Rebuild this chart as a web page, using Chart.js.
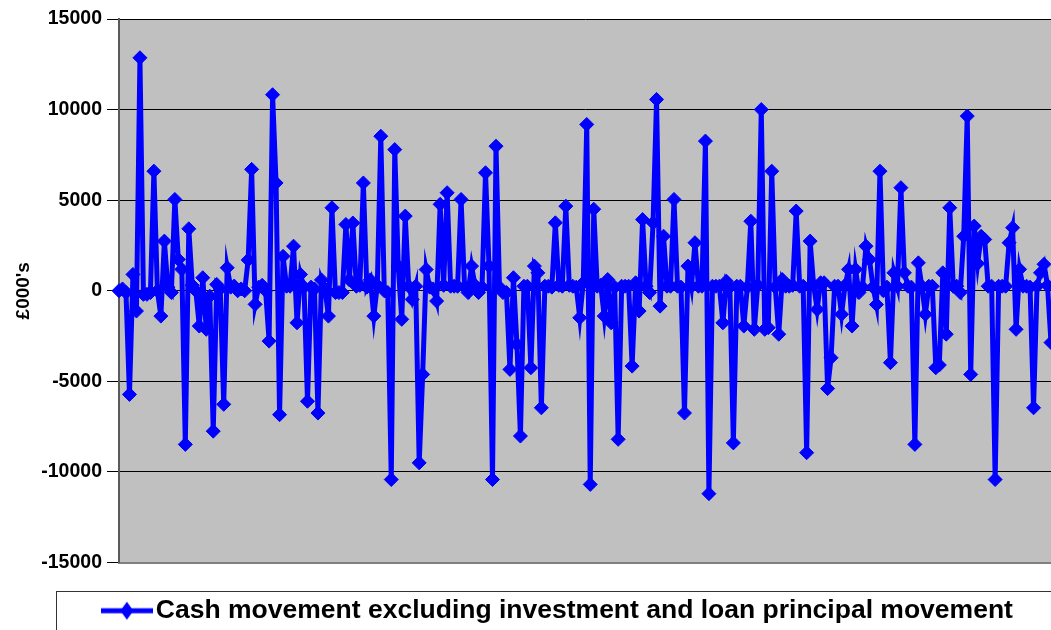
<!DOCTYPE html>
<html>
<head>
<meta charset="utf-8">
<script src="https://cdn.jsdelivr.net/npm/chart.js@4.4.1/dist/chart.umd.min.js"></script>
<style>
  html, body { margin: 0; padding: 0; background: #ffffff; }
  #wrap { width: 1051px; height: 630px; overflow: hidden; position: relative; }
  canvas { display: block; }
</style>
</head>
<body>
<div id="wrap"><canvas id="chart" width="1124" height="634"></canvas></div>
<script>
// Monthly cash movement, £000's
const cashMovement = [
  0, 100, -100, -5720, 900, -1120, 12860, -200, -200, -100,
  6600, 0, -1400, 2740, 200, -100, 5040, 1730, 1180, -8480,
  3420, 300, 0, -1950, 720, -2130, -300, -7750, 350, 100,
  -6270, 1270, 200, 260, 0, 100, 0, 1700, 6700, -750,
  200, 300, 0, -2780, 10820, 5950, -6840, 1900, 250, 250,
  2460, -1770, 900, 200, -6100, 200, 100, -6750, 600, 100,
  -1400, 4580, -100, -100, -100, 3660, 600, 3740, 250, 300,
  5950, 200, 600, -1400, 300, 8530, 0, -100, -10420, 7790,
  1360, -1580, 4120, 250, -480, 250, -9500, -4620, 1170, 200,
  100, -570, 4770, 300, 5410, 250, 250, 250, 5040, 200,
  -100, 1360, 300, -100, 200, 6510, 1360, -10420, 7980, 200,
  -100, -100, -4340, 720, -2960, -8020, 250, 250, -4250, 1360,
  990, -6460, 250, 250, 200, 3750, 300, 250, 4670, 300,
  250, 200, -1490, 440, 9180, -10690, 4500, 250, 300, -1400,
  620, -1770, 200, -8200, 250, 250, 250, -4160, 440, -1120,
  3930, 250, -100, 3750, 10560, -850, 3010, 250, 250, 5040,
  250, 200, -6750, 1360, 250, 2650, 250, 250, 8260, -11200,
  250, 250, 250, -1770, 530, 200, -8400, 250, 250, -1950,
  200, 3840, -2130, 300, 10000, -2130, -2040, 6600, 200, -2400,
  620, 250, 250, 300, 4400, 250, 250, -8940, 2740, 300,
  -1030, 440, 440, -5400, -3700, 250, 250, -1300, 300, 1180,
  -1950, 1180, -100, 200, 2460, 1730, 200, -760, 6600, 0,
  200, -3970, 990, 250, 5690, 990, 250, 200, -8480, 1540,
  250, -1300, 250, 250, -4250, -4100, 990, -2400, 4580, 250,
  250, -100, 3010, 9640, -4620, 3570, 1500, 3010, 2830, 250,
  250, -10420, 250, 250, 250, 2650, 3480, -2130, 1180, 250,
  250, 200, -6460, 250, 990, 1460, 300, -2860
];

// Period numbers along the horizontal axis
const periods = cashMovement.map((_, i) => String(i + 1));

// Vertical axis ticks
const yTicks = [-15000, -10000, -5000, 0, 5000, 10000, 15000];

const seriesLabel = 'Cash movement excluding investment and loan principal movement';
const lineBlue = '#0000FF';
const CANVAS_W = 1124;

// Legend marker: a short thick line with a diamond in the middle
const legendMarker = document.createElement('canvas');
legendMarker.width = 52;
legendMarker.height = 20;
(function () {
  const g = legendMarker.getContext('2d');
  g.fillStyle = lineBlue;
  g.fillRect(0, 7.5, 52, 5);
  g.beginPath();
  g.moveTo(26, 1);
  g.lineTo(32.5, 10);
  g.lineTo(26, 19);
  g.lineTo(19.5, 10);
  g.closePath();
  g.fill();
})();

const plotBackground = {
  id: 'plotBackground',
  beforeDraw(chart) {
    const { ctx, chartArea: a } = chart;
    ctx.save();
    ctx.fillStyle = '#C0C0C0';
    ctx.fillRect(a.left, a.top, a.right - a.left, a.bottom - a.top);
    ctx.restore();
  }
};

const legendFrame = {
  id: 'legendFrame',
  afterDraw(chart) {
    const lg = chart.legend;
    const ctx = chart.ctx;
    ctx.save();
    ctx.strokeStyle = '#333333';
    ctx.lineWidth = 1;
    ctx.strokeRect(56.5, Math.round(lg.top) + 0.5, chart.width - 113, 80);
    ctx.restore();
  }
};

new Chart(document.getElementById('chart'), {
  type: 'line',
  data: {
    labels: periods,
    datasets: [{
      label: seriesLabel,
      data: cashMovement,
      borderColor: lineBlue,
      backgroundColor: lineBlue,
      borderWidth: 5,
      tension: 0,
      pointStyle: 'rectRot',
      pointRadius: 7,
      pointBorderWidth: 1,
      pointBackgroundColor: lineBlue,
      pointBorderColor: lineBlue
    }]
  },
  options: {
    responsive: false,
    animation: false,
    layout: { padding: { top: 19, left: 0, right: 0, bottom: 0 } },
    plugins: {
      tooltip: { enabled: false },
      legend: {
        position: 'bottom',
        labels: {
          usePointStyle: true,
          pointStyle: legendMarker,
          pointStyleWidth: 31.5,
          padding: 7,
          color: '#000000',
          font: { family: '"Liberation Sans", Arial, sans-serif', size: 26.5, weight: 'bold' }
        }
      }
    },
    scales: {
      x: {
        display: true,
        grid: { display: false, drawTicks: false },
        ticks: { display: false },
        border: { display: true, color: '#808080', width: 2 },
        afterFit(s) { s.height = 28; }
      },
      y: {
        min: -15000,
        max: 15000,
        afterBuildTicks(s) { s.ticks = yTicks.map(v => ({ value: v })); },
        afterFit(s) { s.width = 119; },
        grid: {
          color: c => (c.tick && c.tick.value === -15000 ? '#808080' : '#000000'),
          lineWidth: 1,
          tickLength: 12,
          tickColor: '#000000'
        },
        border: { display: true, color: '#5a5a5a', width: 2 },
        ticks: {
          padding: 5,
          color: '#000000',
          font: { family: '"Liberation Sans", Arial, sans-serif', size: 19.5, weight: 'bold' },
          callback: v => String(v)
        },
        title: {
          display: true,
          text: "£000's",
          color: '#000000',
          padding: { top: 12, bottom: 0 },
          font: { family: '"Liberation Sans", Arial, sans-serif', size: 19, weight: 'bold' }
        }
      },
      edge: {
        type: 'linear',
        position: 'right',
        display: true,
        grid: { display: false, drawTicks: false },
        border: { display: false },
        ticks: { display: false },
        afterFit(s) { s.width = CANVAS_W - 1051; }
      }
    }
  },
  plugins: [plotBackground, legendFrame]
});
</script>
</body>
</html>
